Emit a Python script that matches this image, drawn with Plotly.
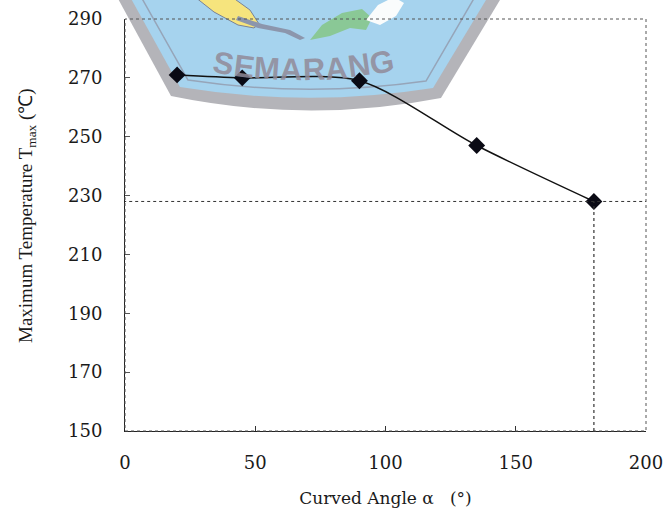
import plotly.graph_objects as go

# ---- data ----
angles = [20, 45, 90, 135, 180]
tmax = [271, 270, 269, 247, 228]
x_ticks = [0, 50, 100, 150, 200]
y_ticks = [150, 170, 190, 210, 230, 250, 270, 290]
ref_angle = 180
ref_temp = 228

# plot box in pixels (used only to place the decorative watermark / titles)
L, R, T, B = 125, 646, 19, 431
W, H = 667, 508


def px(x, y):
    return (x - L) / (R - L), (B - y) / (B - T)


def path(points, close=True):
    s = ""
    for i, (x, y) in enumerate(points):
        a, b = px(x, y)
        s += ("M" if i == 0 else "L") + f"{a:.4f},{b:.4f} "
    return s + ("Z" if close else "")


def qpath(p0, p1, ctrl, p2, p3, close=True):
    a = px(*p0); b = px(*p1); c = px(*ctrl); d = px(*p2); e = px(*p3)
    return (f"M{a[0]:.4f},{a[1]:.4f} L{b[0]:.4f},{b[1]:.4f} "
            f"Q{c[0]:.4f},{c[1]:.4f} {d[0]:.4f},{d[1]:.4f} "
            f"L{e[0]:.4f},{e[1]:.4f}" + (" Z" if close else ""))


serif = "DejaVu Serif, Liberation Serif, serif"
tserif = "Liberation Serif, Times New Roman, serif"

fig = go.Figure()
fig.add_trace(go.Scatter(
    x=angles, y=tmax, mode="lines+markers",
    line=dict(color="#111111", width=1.5, shape="spline", smoothing=0.8),
    marker=dict(symbol="diamond", size=13, color="#0a0a14"),
    showlegend=False, hoverinfo="skip"))

shapes = []
# watermark (decorative)
shapes.append(dict(type="path", xref="paper", yref="paper", layer="below",
                   path=qpath((116, -5), (171, 96), (307, 124), (441, 98), (503, -5)),
                   fillcolor="rgb(180,180,185)", line=dict(width=0)))
shapes.append(dict(type="path", xref="paper", yref="paper", layer="below",
                   path=qpath((129, -5), (180, 87), (307, 108), (433, 88), (489, -5)),
                   fillcolor="rgb(166,211,238)", line=dict(width=0)))
shapes.append(dict(type="path", xref="paper", yref="paper", layer="below",
                   path=qpath((140, -5), (188, 80), (307, 98), (426, 81), (476, -5), close=False),
                   fillcolor="rgba(0,0,0,0)", line=dict(color="rgb(150,165,185)", width=1.5)))
shapes.append(dict(type="path", xref="paper", yref="paper", layer="below",
                   path=path([(195, -3), (232, -3), (250, 10), (259, 24), (254, 28), (238, 25), (214, 12)]),
                   fillcolor="rgb(246,228,125)", line=dict(color="rgb(120,130,150)", width=1)))
shapes.append(dict(type="path", xref="paper", yref="paper", layer="below",
                   path=path([(238, 16), (262, 24), (290, 30), (305, 38), (300, 40), (285, 33), (258, 28), (236, 20)]),
                   fillcolor="rgb(140,150,172)", line=dict(width=0)))
shapes.append(dict(type="path", xref="paper", yref="paper", layer="below",
                   path=path([(310, 40), (322, 25), (342, 13), (362, 9), (372, 18), (366, 30), (350, 28), (330, 36)]),
                   fillcolor="rgb(138,200,150)", line=dict(width=0)))
shapes.append(dict(type="path", xref="paper", yref="paper", layer="below",
                   path=path([(366, 20), (378, 5), (394, -3), (404, 3), (396, 16), (380, 25)]),
                   fillcolor="rgb(250,252,252)", line=dict(width=0)))

# frame (dotted)
shapes.append(dict(type="rect", xref="paper", yref="paper", x0=0, x1=1, y0=0, y1=1,
                   line=dict(color="#555555", width=1, dash="dot"), layer="above"))
# reference lines
shapes.append(dict(type="line", xref="x", yref="y", x0=-3, x1=200, y0=ref_temp, y1=ref_temp,
                   line=dict(color="#333333", width=1, dash="dot"), layer="above"))
shapes.append(dict(type="line", xref="x", yref="y", x0=ref_angle, x1=ref_angle, y0=150, y1=ref_temp,
                   line=dict(color="#333333", width=1.2, dash="dot"), layer="above"))

annotations = []
# watermark word along a slight arc
word = "SEMARANG"
wsize = 31
widths = [0.667, 0.667, 0.833, 0.722, 0.722, 0.722, 0.722, 0.778]
ly = [64, 67, 69, 70, 70, 69, 66, 63]
la = [10, 7, 4, 1, -2, -5, -8, -11]
cx = 213.0
for ch, w, yy, aa in zip(word, widths, ly, la):
    xx = cx + w * wsize / 2
    cx += w * wsize
    p = px(xx, yy)
    annotations.append(dict(xref="paper", yref="paper", x=p[0], y=p[1], text=f"<b>{ch}</b>",
                            xanchor="center", yanchor="middle",
                            showarrow=False, textangle=aa,
                            font=dict(family="Liberation Sans, Arial, sans-serif", size=wsize,
                                      color="rgba(145,138,152,0.85)")))
# y title
p = px(27, 216)
annotations.append(dict(xref="paper", yref="paper", x=p[0], y=p[1], textangle=-90,
                        xanchor="center", yanchor="middle",
                        text="Maximum Temperature T<sub>max</sub> (\u2103)", showarrow=False,
                        font=dict(family=tserif, size=19, color="#1a1a1a")))

fig.update_layout(
    width=W, height=H,
    margin=dict(l=L, r=W - R, t=T, b=H - B),
    paper_bgcolor="white", plot_bgcolor="white",
    font=dict(family=serif, color="#1a1a1a"),
    shapes=shapes,
    annotations=annotations,
    xaxis=dict(range=[0, 200], tickvals=x_ticks, ticktext=[str(v) for v in x_ticks],
               automargin=False,
               ticks="inside", ticklen=5, tickcolor="#333", showgrid=False, zeroline=False,
               showline=True, linecolor="#222", linewidth=1,
               ticklabelstandoff=15,
               tickfont=dict(family=serif, size=18, color="#1a1a1a"),
               title=dict(text="Curved Angle \u03b1   (\u00b0)", standoff=22,
                          font=dict(family=serif, size=17, color="#1a1a1a"))),
    yaxis=dict(range=[150, 290], tickvals=y_ticks, ticktext=[str(v) for v in y_ticks],
               automargin=False,
               ticks="inside", ticklen=5, tickcolor="#555", showgrid=False, zeroline=False,
               showline=True, linecolor="#222", linewidth=1,
               ticklabelstandoff=18,
               tickfont=dict(family=serif, size=18, color="#1a1a1a")),
)

fig.write_html("out.html")
